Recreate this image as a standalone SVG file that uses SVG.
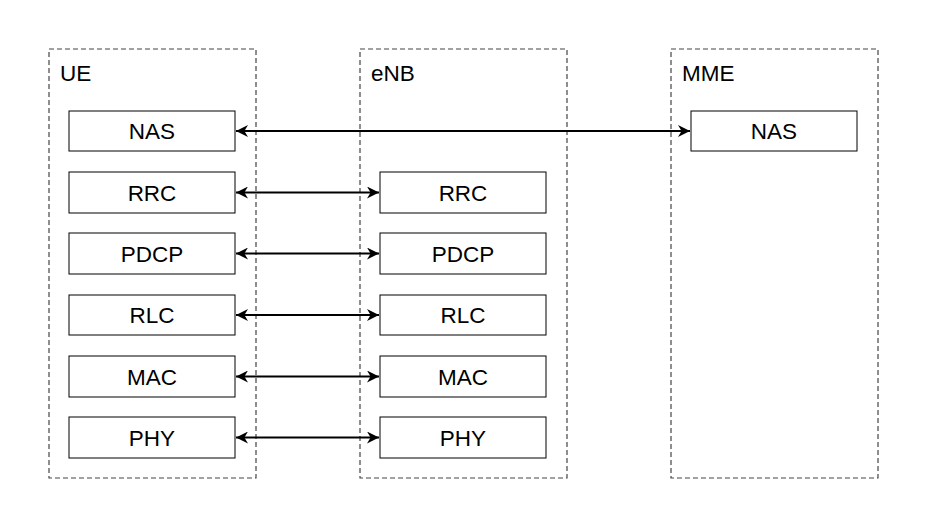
<svg xmlns="http://www.w3.org/2000/svg" width="935" height="511" viewBox="0 0 935 511">
<style>
.cont{fill:none;stroke:#444;stroke-width:1.2;stroke-dasharray:5 3}
.box{fill:#fff;stroke:#000;stroke-width:1}
.t{font-family:"Liberation Sans",Arial,sans-serif;font-size:22.5px;fill:#000}
.c{text-anchor:middle}
.ln{stroke:#000;stroke-width:2;fill:none;marker-start:url(#a);marker-end:url(#a)}
</style>
<defs>
<marker id="a" viewBox="0 0 10 10" refX="10" refY="5" markerWidth="6.5" markerHeight="6" orient="auto-start-reverse" markerUnits="strokeWidth"><path d="M0,0 L10,5 L0,10 L3,5 Z" fill="#000"/></marker>
</defs>
<g id="UE"><rect class="cont" x="49" y="49" width="207" height="429"/><text class="t" x="60" y="81">UE</text></g>
<g id="eNB"><rect class="cont" x="360" y="49" width="207" height="429"/><text class="t" x="371" y="81">eNB</text></g>
<g id="MME"><rect class="cont" x="671" y="49" width="207" height="429"/><text class="t" x="682" y="81">MME</text></g>
<g id="ue-nas"><rect class="box" x="69" y="111" width="166" height="40"/><text class="t c" x="152" y="139">NAS</text></g>
<g id="ue-rrc"><rect class="box" x="69" y="172" width="166" height="41"/><text class="t c" x="152" y="200.5">RRC</text></g>
<g id="ue-pdcp"><rect class="box" x="69" y="233" width="166" height="41"/><text class="t c" x="152" y="261.5">PDCP</text></g>
<g id="ue-rlc"><rect class="box" x="69" y="295" width="166" height="40"/><text class="t c" x="152" y="323">RLC</text></g>
<g id="ue-mac"><rect class="box" x="69" y="356" width="166" height="41"/><text class="t c" x="152" y="384.5">MAC</text></g>
<g id="ue-phy"><rect class="box" x="69" y="417" width="166" height="41"/><text class="t c" x="152" y="445.5">PHY</text></g>
<g id="enb-rrc"><rect class="box" x="380" y="172" width="166" height="41"/><text class="t c" x="463" y="200.5">RRC</text></g>
<g id="enb-pdcp"><rect class="box" x="380" y="233" width="166" height="41"/><text class="t c" x="463" y="261.5">PDCP</text></g>
<g id="enb-rlc"><rect class="box" x="380" y="295" width="166" height="40"/><text class="t c" x="463" y="323">RLC</text></g>
<g id="enb-mac"><rect class="box" x="380" y="356" width="166" height="41"/><text class="t c" x="463" y="384.5">MAC</text></g>
<g id="enb-phy"><rect class="box" x="380" y="417" width="166" height="41"/><text class="t c" x="463" y="445.5">PHY</text></g>
<g id="mme-nas"><rect class="box" x="691" y="111" width="166" height="40"/><text class="t c" x="774" y="139">NAS</text></g>
<g id="connectors">
<line class="ln" x1="236" y1="131" x2="690" y2="131"/>
<line class="ln" x1="236" y1="192.5" x2="379" y2="192.5"/>
<line class="ln" x1="236" y1="253.5" x2="379" y2="253.5"/>
<line class="ln" x1="236" y1="315" x2="379" y2="315"/>
<line class="ln" x1="236" y1="376.5" x2="379" y2="376.5"/>
<line class="ln" x1="236" y1="437.5" x2="379" y2="437.5"/>
</g>
</svg>
